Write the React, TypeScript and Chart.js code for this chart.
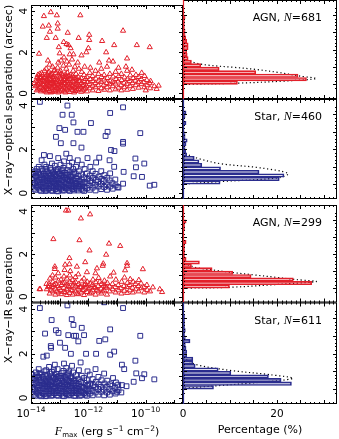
import React, { useEffect, useRef } from 'react';
import { Chart, registerables } from 'chart.js';
Chart.register(...registerables);

// ---------------- data ----------------
// scatter points: [log10(Fmax), separation in arcsec]
const agnOptical: [number, number][] = [
  [-13.72,1.93],[-13.55,3.76],[-13.31,3.95],[-13.59,3.25],[-13.38,3.3],[-13.34,3.0],[-13.45,2.7],[-13.1,3.8],[-13.07,3.4],[-13.07,3.15],
  [-13.14,2.7],[-12.86,2.5],[-12.72,2.95],[-12.76,2.4],[-12.69,2.35],[-12.62,2.2],[-12.28,3.8],[-12.34,2.7],[-11.97,2.85],[-11.97,2.6],
  [-12.0,2.2],[-12.07,2.0],[-12.24,1.85],[-11.52,2.55],[-11.38,2.0],[-11.1,2.35],[-10.79,3.05],[-10.31,2.35],[-9.86,2.25],[-10.65,1.7],
  [-13.41,1.6],[-13.03,2.25],[-13.0,1.95],[-12.52,1.9],[-11.62,1.5],[-11.28,1.6],[-11.14,1.55],[-10.69,1.3],[-13.69,0.75],[-10.48,1.15],
  [-10.14,1.0],[-9.83,0.6],[-9.55,0.38],[-9.62,0.22],[-10.0,0.15],
  [-13.85,0.35],[-13.82,0.62],[-13.88,0.5],[-13.75,0.2],[-13.75,0.45],[-13.74,0.7],[-13.76,0.9],
  [-13.65,0.1],[-13.66,0.3],[-13.64,0.55],[-13.65,0.8],[-13.63,1.0],[-13.55,0.15],[-13.56,0.4],[-13.54,0.6],[-13.55,0.75],[-13.53,1.1],[-13.57,0.25],
  [-13.45,0.05],[-13.46,0.3],[-13.44,0.5],[-13.45,0.65],[-13.43,0.9],[-13.47,1.2],[-13.45,0.2],
  [-13.35,0.12],[-13.36,0.35],[-13.34,0.45],[-13.35,0.7],[-13.33,0.85],[-13.37,1.05],[-13.35,1.4],
  [-13.25,0.08],[-13.26,0.28],[-13.24,0.5],[-13.25,0.6],[-13.23,0.8],[-13.27,0.95],[-13.25,1.3],
  [-13.15,0.18],[-13.16,0.38],[-13.14,0.55],[-13.15,0.72],[-13.13,1.0],[-13.17,1.15],[-13.15,0.1],
  [-13.05,0.05],[-13.06,0.25],[-13.04,0.42],[-13.05,0.62],[-13.03,0.88],[-13.07,1.25],[-13.05,1.5],
  [-12.95,0.15],[-12.96,0.35],[-12.94,0.5],[-12.95,0.7],[-12.93,0.95],[-12.97,1.1],[-12.95,1.6],
  [-12.85,0.1],[-12.86,0.3],[-12.84,0.48],[-12.85,0.66],[-12.83,0.8],[-12.87,1.35],[-12.85,1.75],
  [-12.75,0.2],[-12.76,0.4],[-12.74,0.58],[-12.75,0.78],[-12.73,1.0],[-12.77,1.2],[-12.75,1.55],
  [-12.65,0.07],[-12.66,0.32],[-12.64,0.52],[-12.65,0.7],[-12.63,0.9],[-12.67,1.4],[-12.65,1.9],
  [-12.55,0.18],[-12.56,0.36],[-12.54,0.6],[-12.55,0.85],[-12.53,1.1],[-12.57,1.65],
  [-12.45,0.12],[-12.46,0.28],[-12.44,0.45],[-12.45,0.68],[-12.43,0.95],[-12.47,1.3],
  [-12.35,0.22],[-12.36,0.4],[-12.34,0.62],[-12.35,0.8],[-12.33,1.2],[-12.37,1.5],
  [-12.25,0.08],[-12.26,0.3],[-12.24,0.5],[-12.25,0.75],[-12.23,1.05],
  [-12.15,0.2],[-12.16,0.42],[-12.14,0.6],[-12.15,0.9],[-12.13,1.3],
  [-12.05,0.1],[-12.06,0.35],[-12.04,0.55],[-12.05,0.8],
  [-11.95,0.25],[-11.96,0.45],[-11.94,0.7],[-11.95,1.0],[-11.93,1.25],
  [-11.85,0.15],[-11.86,0.38],[-11.84,0.6],[-11.85,0.85],
  [-11.75,0.3],[-11.76,0.5],[-11.74,0.72],[-11.75,1.1],
  [-11.65,0.12],[-11.66,0.4],[-11.64,0.62],[-11.65,0.95],
  [-11.55,0.25],[-11.56,0.55],[-11.54,0.8],[-11.55,1.2],
  [-11.45,0.18],[-11.46,0.42],[-11.44,0.68],[-11.45,0.9],
  [-11.35,0.3],[-11.36,0.5],[-11.34,0.75],[-11.35,1.3],
  [-11.25,0.15],[-11.26,0.45],[-11.24,0.6],[-11.25,0.95],
  [-11.15,0.35],[-11.16,0.55],[-11.14,0.82],
  [-11.05,0.2],[-11.06,0.48],[-11.04,0.7],[-11.05,1.05],
  [-10.95,0.28],[-10.96,0.58],[-10.94,0.85],[-10.95,1.25],
  [-10.85,0.15],[-10.86,0.4],[-10.84,0.65],[-10.85,0.95],
  [-10.75,0.3],[-10.76,0.52],[-10.74,0.78],
  [-10.65,0.18],[-10.66,0.45],[-10.64,0.7],[-10.65,1.1],
  [-10.55,0.35],[-10.56,0.6],[-10.54,0.88],
  [-10.45,0.22],[-10.46,0.5],[-10.44,0.75],
  [-10.35,0.4],[-10.36,0.62],[-10.34,0.9],
  [-10.25,0.28],[-10.26,0.55],[-10.24,0.8],
  [-10.15,0.45],[-10.16,0.7],[-10.05,0.3],[-10.06,0.55],[-10.04,0.85],
  [-9.95,0.4],[-9.96,0.65],[-9.85,0.25],[-9.86,0.5],[-9.7,0.35],
  [-13.8,0.15],[-13.8,0.4],[-13.79,0.78],[-13.7,0.25],[-13.7,0.5],[-13.71,0.62],[-13.7,0.95],[-13.6,0.18],[-13.6,0.45],[-13.61,0.68],
  [-13.6,0.9],[-13.5,0.1],[-13.5,0.35],[-13.51,0.55],[-13.5,0.82],[-13.4,0.22],[-13.4,0.4],[-13.41,0.6],[-13.4,0.78],[-13.4,1.0],
  [-13.3,0.05],[-13.3,0.3],[-13.31,0.52],[-13.3,0.65],[-13.3,0.9],[-13.2,0.15],[-13.2,0.38],[-13.21,0.45],[-13.2,0.7],[-13.2,1.1],
  [-13.1,0.28],[-13.1,0.48],[-13.11,0.65],[-13.1,0.82],[-13.0,0.1],[-13.0,0.32],[-13.01,0.55],[-13.0,0.78],[-13.0,1.0],[-12.9,0.2],
  [-12.9,0.42],[-12.91,0.6],[-12.9,0.88],[-12.8,0.05],[-12.8,0.25],[-12.81,0.5],[-12.8,0.7],[-12.8,0.92],[-12.7,0.15],[-12.7,0.45],
  [-12.71,0.62],[-12.7,0.85],[-12.6,0.25],[-12.6,0.42],[-12.61,0.78],[-12.5,0.05],[-12.5,0.3],[-12.51,0.55],[-12.5,0.75],[-12.4,0.18],
  [-12.4,0.52],[-12.41,0.72],[-12.3,0.35],[-12.3,0.6],[-12.2,0.15],[-12.2,0.4],[-12.1,0.28],[-12.1,0.7],
];

const starOptical: [number, number][] = [
  [-13.69,4.17],[-12.73,4.0],[-12.9,3.58],[-12.58,3.58],[-12.52,3.23],[-11.24,3.66],[-10.79,3.92],[-11.91,3.2],[-13.01,2.97],[-12.81,2.89],
  [-12.38,2.8],[-12.17,2.8],[-11.33,2.8],[-11.4,2.61],[-10.19,2.74],[-13.13,2.57],[-12.96,2.28],[-12.52,2.28],[-12.24,2.08],[-10.79,2.34],
  [-10.79,2.26],[-11.21,1.97],[-11.09,1.92],[-10.36,1.58],[-10.34,1.18],[-10.05,1.35],[-10.77,0.97],[-11.1,1.2],[-10.42,0.77],[-10.13,0.74],
  [-9.86,0.34],[-9.7,0.38],[-10.79,0.43],[-10.98,0.28],[-11.26,1.5],[-11.62,1.62],[-13.63,1.5],[-13.55,1.74],[-13.34,1.69],
  [-13.95,0.3],[-13.96,0.6],[-13.94,0.85],[-13.85,0.15],[-13.86,0.45],[-13.84,0.75],[-13.85,1.0],
  [-13.75,0.25],[-13.76,0.5],[-13.74,0.7],[-13.75,0.95],[-13.73,1.2],
  [-13.65,0.1],[-13.66,0.35],[-13.64,0.6],[-13.65,0.85],[-13.63,1.1],
  [-13.55,0.2],[-13.56,0.45],[-13.54,0.65],[-13.55,0.9],[-13.53,1.3],
  [-13.45,0.12],[-13.46,0.3],[-13.44,0.55],[-13.45,0.75],[-13.43,1.0],[-13.47,1.2],
  [-13.35,0.22],[-13.36,0.4],[-13.34,0.62],[-13.35,0.85],[-13.33,1.15],
  [-13.25,0.1],[-13.26,0.32],[-13.24,0.5],[-13.25,0.7],[-13.23,0.95],[-13.27,1.35],
  [-13.15,0.18],[-13.16,0.42],[-13.14,0.6],[-13.15,0.8],[-13.13,1.05],[-13.17,1.25],
  [-13.05,0.08],[-13.06,0.28],[-13.04,0.48],[-13.05,0.68],[-13.03,0.9],[-13.07,1.1],[-13.05,1.6],
  [-12.95,0.2],[-12.96,0.38],[-12.94,0.58],[-12.95,0.78],[-12.93,1.0],[-12.97,1.3],
  [-12.85,0.12],[-12.86,0.3],[-12.84,0.5],[-12.85,0.72],[-12.83,0.92],[-12.87,1.15],[-12.85,1.45],
  [-12.75,0.22],[-12.76,0.42],[-12.74,0.62],[-12.75,0.82],[-12.73,1.05],[-12.77,1.8],
  [-12.65,0.1],[-12.66,0.35],[-12.64,0.55],[-12.65,0.75],[-12.63,0.98],[-12.67,1.25],[-12.65,1.6],
  [-12.55,0.18],[-12.56,0.4],[-12.54,0.6],[-12.55,0.85],[-12.53,1.1],[-12.57,1.4],
  [-12.45,0.25],[-12.46,0.45],[-12.44,0.68],[-12.45,0.9],[-12.43,1.2],
  [-12.35,0.12],[-12.36,0.32],[-12.34,0.55],[-12.35,0.78],[-12.33,1.0],[-12.37,1.5],
  [-12.25,0.2],[-12.26,0.4],[-12.24,0.62],[-12.25,0.85],[-12.23,1.3],
  [-12.15,0.1],[-12.16,0.3],[-12.14,0.5],[-12.15,0.72],[-12.13,1.1],
  [-12.05,0.22],[-12.06,0.45],[-12.04,0.65],[-12.05,0.9],[-12.03,1.6],
  [-11.95,0.15],[-11.96,0.35],[-11.94,0.55],[-11.95,0.8],[-11.93,1.2],
  [-11.85,0.25],[-11.86,0.48],[-11.84,0.7],[-11.85,1.0],
  [-11.75,0.12],[-11.76,0.38],[-11.74,0.6],[-11.75,0.88],[-11.73,1.4],
  [-11.65,0.3],[-11.66,0.52],[-11.64,0.75],[-11.55,0.18],[-11.56,0.42],[-11.54,0.65],[-11.55,1.0],
  [-11.45,0.28],[-11.46,0.55],[-11.44,0.82],[-11.35,0.15],[-11.36,0.4],[-11.34,0.7],
  [-11.25,0.3],[-11.26,0.58],[-11.24,0.9],[-11.15,0.2],[-11.16,0.45],[-11.05,0.35],[-11.06,0.62],[-10.95,0.25],
  [-13.9,0.2],[-13.9,0.45],[-13.91,0.7],[-13.9,0.95],[-13.8,0.3],[-13.8,0.55],[-13.81,0.8],[-13.8,1.1],[-13.7,0.15],[-13.7,0.4],
  [-13.71,0.6],[-13.7,0.85],[-13.6,0.25],[-13.6,0.5],[-13.61,0.72],[-13.6,1.0],[-13.5,0.1],[-13.5,0.35],[-13.51,0.58],[-13.5,0.8],
  [-13.5,1.1],[-13.4,0.2],[-13.4,0.45],[-13.41,0.68],[-13.4,0.9],[-13.3,0.12],[-13.3,0.32],[-13.31,0.55],[-13.3,0.78],[-13.3,1.05],
  [-13.2,0.25],[-13.2,0.45],[-13.21,0.65],[-13.2,0.88],[-13.1,0.1],[-13.1,0.35],[-13.11,0.55],[-13.1,0.75],[-13.1,0.98],[-13.0,0.22],
  [-13.0,0.42],[-13.01,0.65],[-13.0,0.88],[-12.9,0.12],[-12.9,0.35],[-12.91,0.6],[-12.9,0.82],[-12.9,1.05],[-12.8,0.25],[-12.8,0.45],
  [-12.81,0.68],[-12.8,0.92],[-12.7,0.15],[-12.7,0.38],[-12.71,0.6],[-12.7,0.85],[-12.6,0.25],[-12.6,0.48],[-12.61,0.72],[-12.5,0.12],
  [-12.5,0.32],[-12.51,0.55],[-12.5,0.95],[-12.4,0.2],[-12.4,0.42],[-12.41,0.65],[-12.3,0.3],[-12.3,0.52],[-12.2,0.15],[-12.2,0.45],
];

const agnIR: [number, number][] = [
  [-12.78,4.04],[-12.7,4.04],[-12.26,3.67],[-11.94,3.86],[-13.22,2.7],[-12.31,2.65],[-11.28,2.49],[-10.89,2.38],[-11.96,2.17],[-11.38,1.97],
  [-12.66,1.81],[-12.11,1.62],[-12.81,1.5],[-12.66,1.52],[-13.17,1.41],[-13.17,1.3],[-10.1,1.29],[-10.65,1.57],[-10.65,1.45],[-11.12,1.13],
  [-10.72,1.24],[-9.51,0.35],[-9.43,0.22],[-9.75,0.44],[-12.4,1.41],[-11.7,1.33],[-11.5,1.45],[-11.48,1.55],[-13.37,0.6],[-13.4,0.45],[-13.68,0.35],[-13.7,0.36],
  [-13.45,0.35],[-13.46,0.6],[-13.35,0.15],[-13.36,0.5],[-13.34,0.85],
  [-13.25,0.25],[-13.26,0.45],[-13.24,0.7],[-13.25,1.0],[-13.15,0.1],[-13.16,0.38],[-13.14,0.6],[-13.15,0.9],
  [-13.05,0.2],[-13.06,0.5],[-13.04,0.75],[-13.05,1.1],[-12.95,0.12],[-12.96,0.3],[-12.94,0.55],[-12.95,0.8],
  [-12.85,0.22],[-12.86,0.42],[-12.84,0.65],[-12.85,0.95],[-12.83,1.25],[-12.75,0.08],[-12.76,0.35],[-12.74,0.58],[-12.75,0.85],
  [-12.65,0.18],[-12.66,0.45],[-12.64,0.7],[-12.65,1.0],[-12.63,1.2],[-12.55,0.1],[-12.56,0.3],[-12.54,0.52],[-12.55,0.78],
  [-12.45,0.25],[-12.46,0.48],[-12.44,0.68],[-12.45,0.92],[-12.35,0.12],[-12.36,0.38],[-12.34,0.6],[-12.35,1.05],
  [-12.25,0.2],[-12.26,0.45],[-12.24,0.72],[-12.15,0.08],[-12.16,0.32],[-12.14,0.55],[-12.15,0.85],
  [-12.05,0.22],[-12.06,0.48],[-12.04,0.7],[-12.05,1.15],[-11.95,0.15],[-11.96,0.4],[-11.94,0.62],
  [-11.85,0.3],[-11.86,0.55],[-11.84,0.8],[-11.75,0.1],[-11.76,0.42],[-11.74,0.68],[-11.75,1.1],
  [-11.65,0.25],[-11.66,0.5],[-11.64,0.88],[-11.55,0.15],[-11.56,0.38],[-11.54,0.6],
  [-11.45,0.3],[-11.46,0.52],[-11.44,0.75],[-11.35,0.1],[-11.36,0.42],[-11.34,0.65],
  [-11.25,0.25],[-11.26,0.48],[-11.24,0.95],[-11.15,0.35],[-11.16,0.6],[-11.05,0.2],[-11.06,0.45],[-11.04,0.8],
  [-10.95,0.3],[-10.96,0.55],[-10.85,0.15],[-10.86,0.4],[-10.84,0.7],[-10.75,0.28],[-10.76,0.5],[-10.74,0.9],
  [-10.65,0.18],[-10.66,0.45],[-10.64,0.65],[-10.55,0.3],[-10.56,0.55],[-10.54,0.82],
  [-10.45,0.2],[-10.46,0.42],[-10.44,0.7],[-10.35,0.35],[-10.36,0.6],[-10.25,0.25],[-10.26,0.5],[-10.24,0.78],
  [-10.15,0.4],[-10.16,0.62],[-10.05,0.2],[-10.06,0.45],[-9.95,0.32],[-9.96,0.55],[-9.85,0.25],
  [-13.3,0.3],[-13.2,0.55],[-13.1,0.25],[-13.0,0.4],[-12.9,0.65],[-12.8,0.2],[-12.7,0.5],[-12.6,0.3],[-12.5,0.62],[-12.4,0.15],
  [-12.3,0.45],[-12.2,0.3],[-12.1,0.6],[-12.0,0.38],[-11.9,0.2],[-11.8,0.45],[-11.7,0.3],[-11.6,0.7],[-11.5,0.25],[-11.4,0.48],
];

const starIR: [number, number][] = [
  [-13.69,4.05],[-12.73,4.17],[-11.45,4.31],[-10.79,4.05],[-13.28,3.51],[-12.58,3.55],[-12.52,3.29],[-12.23,3.16],[-11.24,3.09],[-13.51,2.9],
  [-13.13,3.05],[-13.04,2.93],[-12.7,2.83],[-12.5,2.8],[-12.43,2.8],[-12.15,2.83],[-12.35,2.55],[-12.99,2.49],[-10.19,2.8],[-11.62,2.57],
  [-11.41,2.64],[-13.31,2.34],[-13.3,2.26],[-12.81,2.26],[-12.61,1.99],[-13.45,1.91],[-13.57,1.86],[-12.08,1.99],[-11.73,1.99],[-11.24,1.95],
  [-11.1,2.09],[-10.36,1.68],[-10.83,1.5],[-10.75,1.3],[-10.33,1.11],[-10.05,1.07],[-10.42,0.73],[-10.13,0.89],[-9.7,0.84],[-10.83,0.58],
  [-11.0,0.28],[-10.67,0.53],
  [-13.95,0.25],[-13.96,0.5],[-13.94,0.8],[-13.95,1.05],[-13.85,0.1],[-13.86,0.38],[-13.84,0.65],[-13.85,0.9],[-13.83,1.15],
  [-13.75,0.2],[-13.76,0.45],[-13.74,0.7],[-13.75,0.95],[-13.73,1.3],[-13.65,0.08],[-13.66,0.3],[-13.64,0.55],[-13.65,0.8],[-13.63,1.05],
  [-13.55,0.18],[-13.56,0.42],[-13.54,0.62],[-13.55,0.88],[-13.53,1.2],
  [-13.45,0.1],[-13.46,0.32],[-13.44,0.5],[-13.45,0.72],[-13.43,0.98],[-13.47,1.25],
  [-13.35,0.2],[-13.36,0.4],[-13.34,0.6],[-13.35,0.82],[-13.33,1.1],[-13.37,1.4],
  [-13.25,0.12],[-13.26,0.3],[-13.24,0.52],[-13.25,0.75],[-13.23,0.92],[-13.27,1.18],
  [-13.15,0.22],[-13.16,0.45],[-13.14,0.65],[-13.15,0.85],[-13.13,1.08],[-13.17,1.5],
  [-13.05,0.1],[-13.06,0.35],[-13.04,0.55],[-13.05,0.78],[-13.03,1.0],[-13.07,1.3],
  [-12.95,0.2],[-12.96,0.42],[-12.94,0.62],[-12.95,0.88],[-12.93,1.12],
  [-12.85,0.08],[-12.86,0.3],[-12.84,0.5],[-12.85,0.7],[-12.83,0.95],[-12.87,1.22],[-12.85,1.55],
  [-12.75,0.18],[-12.76,0.4],[-12.74,0.6],[-12.75,0.8],[-12.73,1.05],[-12.77,1.35],
  [-12.65,0.12],[-12.66,0.32],[-12.64,0.52],[-12.65,0.75],[-12.63,0.98],[-12.67,1.2],
  [-12.55,0.22],[-12.56,0.45],[-12.54,0.65],[-12.55,0.88],[-12.53,1.15],[-12.57,1.45],
  [-12.45,0.1],[-12.46,0.35],[-12.44,0.55],[-12.45,0.78],[-12.43,1.02],
  [-12.35,0.2],[-12.36,0.42],[-12.34,0.62],[-12.35,0.85],[-12.33,1.25],
  [-12.25,0.12],[-12.26,0.3],[-12.24,0.5],[-12.25,0.72],[-12.23,1.0],[-12.27,1.6],
  [-12.15,0.22],[-12.16,0.45],[-12.14,0.68],[-12.15,0.9],
  [-12.05,0.1],[-12.06,0.35],[-12.04,0.55],[-12.05,0.8],[-12.03,1.2],
  [-11.95,0.2],[-11.96,0.42],[-11.94,0.65],[-11.95,1.05],[-11.85,0.12],[-11.86,0.32],[-11.84,0.58],[-11.85,0.85],
  [-11.75,0.25],[-11.76,0.48],[-11.74,0.72],[-11.75,1.3],[-11.65,0.15],[-11.66,0.4],[-11.64,0.62],[-11.65,0.95],
  [-11.55,0.28],[-11.56,0.5],[-11.54,0.8],[-11.45,0.12],[-11.46,0.38],[-11.44,0.65],[-11.45,1.1],
  [-11.35,0.25],[-11.36,0.5],[-11.34,0.78],[-11.25,0.15],[-11.26,0.4],[-11.24,0.62],
  [-11.15,0.3],[-11.16,0.55],[-11.14,0.9],[-11.05,0.2],[-11.06,0.45],[-11.04,0.7],[-10.95,0.35],[-10.96,0.6],[-10.85,0.25],
  [-13.9,0.15],[-13.9,0.4],[-13.91,0.65],[-13.9,0.92],[-13.8,0.25],[-13.8,0.52],[-13.81,0.78],[-13.8,1.02],[-13.7,0.12],[-13.7,0.35],
  [-13.71,0.58],[-13.7,0.82],[-13.7,1.12],[-13.6,0.22],[-13.6,0.45],[-13.61,0.7],[-13.6,0.95],[-13.5,0.08],[-13.5,0.3],[-13.51,0.55],
  [-13.5,0.78],[-13.5,1.05],[-13.4,0.2],[-13.4,0.42],[-13.41,0.65],[-13.4,0.88],[-13.3,0.1],[-13.3,0.32],[-13.31,0.55],[-13.3,0.72],
  [-13.3,0.98],[-13.2,0.22],[-13.2,0.42],[-13.21,0.62],[-13.2,0.9],[-13.2,1.25],[-13.1,0.12],[-13.1,0.32],[-13.11,0.52],[-13.1,0.72],
  [-13.1,0.95],[-13.0,0.22],[-13.0,0.45],[-13.01,0.68],[-13.0,0.9],[-12.9,0.1],[-12.9,0.32],[-12.91,0.55],[-12.9,0.78],[-12.9,1.0],
  [-12.8,0.22],[-12.8,0.42],[-12.81,0.62],[-12.8,0.88],[-12.7,0.12],[-12.7,0.32],[-12.71,0.55],[-12.7,0.8],[-12.7,1.1],[-12.6,0.22],
  [-12.6,0.45],[-12.61,0.68],[-12.6,0.92],[-12.5,0.1],[-12.5,0.35],[-12.51,0.55],[-12.5,0.78],[-12.4,0.22],[-12.4,0.45],[-12.41,0.68],
  [-12.3,0.1],[-12.3,0.32],[-12.31,0.55],[-12.2,0.25],[-12.2,0.5],[-12.1,0.15],[-12.1,0.4],[-12.0,0.3],[-12.0,0.6],
];

// histograms: bin centres (arcsec) and percentages
const sepBins = [0.1,0.3,0.5,0.7,0.9,1.1,1.3,1.5,1.7,1.9,2.1,2.3,2.5,2.7,2.9,3.1,3.3,3.5,3.7,3.9,4.1];
const agnOptPct = [11.6,26.3,24.5,15.5,7.7,3.8,1.8,1.1,0.9,0.8,1.1,1.1,0.8,0.6,0.45,0.45,0.3,0.3,0.3,0.45,0];
const starOptPct = [7.9,20.5,21.5,16.2,8.0,4.0,3.4,2.4,0.8,0.6,0.45,0.65,0.9,0.45,0.45,0.2,0.2,0.65,0.2,0.45,0.65];
const agnIrPct = [9.9,27.4,23.5,14.5,10.6,6.2,1.8,3.5,0.67,0.33,0.33,0.33,0.33,0.67,0,0,0,0.33,0.33,0.67,0];
const starIrPct = [6.5,23.1,20.9,18.2,10.2,7.5,2.6,2.1,2.1,0.8,0.8,0.65,0.5,1.5,0.5,0.33,0.5,0.33,0.33,0.33,0.33];

// dotted model curves: [percentage, separation]
const agnOptCurve: [number, number][] = [[0.4,0.0],[11.4,0.07],[22,0.2],[28.4,0.34],[24.9,0.48],[20.6,0.68],[15.7,0.86],[10.7,0.99],[5.7,1.1],[2.9,1.22],[1.1,1.41],[0.4,1.68]];
const starOptCurve: [number, number][] = [[0.4,0.02],[7.9,0.15],[20.6,0.38],[22.4,0.62],[16.4,0.94],[7.9,1.18],[2.9,1.5],[0.4,1.76]];
const agnIrCurve: [number, number][] = [[0.8,0.0],[10,0.05],[23.5,0.28],[28.4,0.39],[24.2,0.5],[19.9,0.63],[15,0.78],[10.7,0.91],[6.5,1.06],[2.9,1.2],[0.8,1.4]];
const starIrCurve: [number, number][] = [[0.4,0.05],[6.5,0.17],[15,0.35],[23.4,0.6],[18.5,0.81],[10.4,1.04],[2.9,1.37],[0.4,1.7]];

const panelLabels = ['AGN', 'Star', 'AGN', 'Star'];
const panelCounts = [681, 460, 299, 611];

// axis ticks
const fluxLabelExps = [-14, -12, -10];
const fluxDecades = [-14, -13, -12, -11, -10, -9];
const sepLabels = [0, 2, 4];
const sepMajor = [0, 1, 2, 3, 4];
const pctLabels = [0, 20];
const pctMajor = [0, 5, 10, 15, 20, 25, 30];

// ---------------- style / layout ----------------
const W = 339, H = 439;
const RED = '#e3202b';
const BLUE = '#2b2d8e';
const RED_FILL = 'rgba(227,32,43,0.13)';
const BLUE_FILL = 'rgba(43,45,142,0.13)';
const ROWS = [
  { top: 0, bottom: 99 },
  { top: 99, bottom: 199 },
  { top: 205, bottom: 302.5 },
  { top: 302.5, bottom: 404 },
];
const LEFT_X = [31, 183];
const RIGHT_X = [183, 337];
const Y_MIN = -0.27, Y_MAX = 4.3;
const X_LOG_MIN = 1e-14, X_LOG_MAX = Math.pow(10, -8.7);
const PCT_MAX = 32.8;
const FONT = '"DejaVu Sans", sans-serif';

const logMinor: number[] = [];
fluxDecades.forEach((d) => { for (let m = 2; m <= 9; m++) logMinor.push(m * Math.pow(10, d)); });
const sepMinor: number[] = [];
for (let i = -1; i <= 22; i++) sepMinor.push(i * 0.2);
const pctMinor: number[] = [];
for (let i = 0; i <= 33; i++) pctMinor.push(i);

const framePlugin = {
  id: 'frame',
  afterDatasetsDraw(chart: any, _args: any, o: any) {
    const { ctx, chartArea: a } = chart;
    const xs = chart.scales.x, ys = chart.scales.y;
    ctx.save();
    ctx.strokeStyle = '#000';
    ctx.lineWidth = 1;
    ctx.strokeRect(a.left + 0.5, a.top + 0.5, a.right - a.left - 1, a.bottom - a.top - 1);
    const drawX = (vals: number[], len: number) => {
      vals.forEach((v) => {
        const px = Math.round(xs.getPixelForValue(v)) + 0.5;
        if (px < a.left || px > a.right) return;
        ctx.moveTo(px, a.bottom); ctx.lineTo(px, a.bottom - len);
        ctx.moveTo(px, a.top); ctx.lineTo(px, a.top + len);
      });
    };
    const drawY = (vals: number[], len: number) => {
      vals.forEach((v) => {
        const py = Math.round(ys.getPixelForValue(v)) + 0.5;
        if (py < a.top || py > a.bottom) return;
        ctx.moveTo(a.left, py); ctx.lineTo(a.left + len, py);
        ctx.moveTo(a.right, py); ctx.lineTo(a.right - len, py);
      });
    };
    ctx.beginPath();
    drawX(o.xMajor, 4); drawX(o.xMinor, 2);
    drawY(o.yMajor, 4); drawY(o.yMinor, 2);
    ctx.stroke();
    if (o.edgeColor) {
      const px = Math.round(xs.getPixelForValue(0)) + 0.5;
      ctx.strokeStyle = o.edgeColor;
      ctx.lineWidth = 1.2;
      ctx.beginPath();
      ctx.moveTo(px, a.bottom);
      ctx.lineTo(px, a.top);
      ctx.stroke();
    }
    ctx.fillStyle = '#000';
    if (o.yLabels) {
      ctx.font = `10.5px ${FONT}`;
      ctx.textAlign = 'center';
      ctx.textBaseline = 'alphabetic';
      o.yLabels.forEach((v: number) => {
        const py = ys.getPixelForValue(v);
        ctx.save();
        ctx.translate(a.left - 4, py);
        ctx.rotate(-Math.PI / 2);
        ctx.fillText(String(v), 0, 0);
        ctx.restore();
      });
    }
    if (o.xLabels) {
      const base = a.bottom + 13;
      ctx.textBaseline = 'alphabetic';
      ctx.textAlign = 'left';
      o.xLabels.forEach((l: { v: number; text: string; sup?: string }) => {
        const px = xs.getPixelForValue(l.v);
        ctx.font = `10.5px ${FONT}`;
        const w1 = ctx.measureText(l.text).width;
        let w2 = 0;
        if (l.sup) { ctx.font = `7.5px ${FONT}`; w2 = ctx.measureText(l.sup).width; }
        const x0 = px - (w1 + w2) / 2;
        ctx.font = `10.5px ${FONT}`;
        ctx.fillText(l.text, x0, base);
        if (l.sup) { ctx.font = `7.5px ${FONT}`; ctx.fillText(l.sup, x0 + w1, base - 5); }
      });
    }
    ctx.restore();
  },
};

function makeScatter(row: number, pts: [number, number][], color: string, style: string, bottom: boolean) {
  const r = ROWS[row];
  return {
    type: 'scatter',
    data: {
      datasets: [{
        data: pts.map(([lf, s]) => ({ x: Math.pow(10, lf), y: s })),
        pointStyle: style,
        pointRadius: style === 'rect' ? 3.4 : 3,
        borderColor: color,
        backgroundColor: 'rgba(0,0,0,0)',
        borderWidth: 1,
      }],
    },
    options: {
      animation: false, responsive: false, maintainAspectRatio: false,
      layout: { padding: { left: LEFT_X[0], right: W - LEFT_X[1], top: r.top, bottom: H - r.bottom } },
      scales: {
        x: { type: 'logarithmic', min: X_LOG_MIN, max: X_LOG_MAX, display: false },
        y: { type: 'linear', min: Y_MIN, max: Y_MAX, display: false },
      },
      plugins: {
        legend: { display: false }, tooltip: { enabled: false },
        frame: {
          xMajor: fluxDecades.map((d) => Math.pow(10, d)), xMinor: logMinor,
          yMajor: sepMajor, yMinor: sepMinor, yLabels: sepLabels,
          xLabels: bottom ? fluxLabelExps.map((e) => ({ v: Math.pow(10, e), text: '10', sup: '\u2212' + Math.abs(e) })) : null,
        },
      },
    },
    plugins: [framePlugin],
  };
}

function makeHist(row: number, pct: number[], curve: [number, number][], color: string, fill: string, bottom: boolean) {
  const r = ROWS[row];
  return {
    type: 'bar',
    data: {
      datasets: [
        {
          type: 'bar',
          data: pct.map((v, i) => ({ x: v, y: sepBins[i] })),
          backgroundColor: fill, borderColor: color, borderWidth: 1,
          borderSkipped: false, barPercentage: 1, categoryPercentage: 1,
        },
        {
          type: 'line',
          data: curve.map(([p, s]) => ({ x: p, y: s })),
          borderColor: '#000', borderWidth: 1.2, borderDash: [1.2, 2.6],
          pointRadius: 0, fill: false, tension: 0.35,
        },
      ],
    },
    options: {
      indexAxis: 'y',
      animation: false, responsive: false, maintainAspectRatio: false,
      layout: { padding: { left: RIGHT_X[0], right: W - RIGHT_X[1], top: r.top, bottom: H - r.bottom } },
      scales: {
        x: { type: 'linear', min: 0, max: PCT_MAX, display: false },
        y: { type: 'linear', min: Y_MIN, max: Y_MAX, display: false },
      },
      plugins: {
        legend: { display: false }, tooltip: { enabled: false },
        frame: {
          xMajor: pctMajor, xMinor: pctMinor, yMajor: sepMajor, yMinor: sepMinor,
          edgeColor: color,
          xLabels: bottom ? pctLabels.map((v) => ({ v, text: String(v) })) : null,
        },
      },
    },
    plugins: [framePlugin],
  };
}

export default function App() {
  const refs = useRef<(HTMLCanvasElement | null)[]>([]);
  useEffect(() => {
    const configs: any[] = [
      makeScatter(0, agnOptical, RED, 'triangle', false),
      makeScatter(1, starOptical, BLUE, 'rect', false),
      makeScatter(2, agnIR, RED, 'triangle', false),
      makeScatter(3, starIR, BLUE, 'rect', true),
      makeHist(0, agnOptPct, agnOptCurve, RED, RED_FILL, false),
      makeHist(1, starOptPct, starOptCurve, BLUE, BLUE_FILL, false),
      makeHist(2, agnIrPct, agnIrCurve, RED, RED_FILL, false),
      makeHist(3, starIrPct, starIrCurve, BLUE, BLUE_FILL, true),
    ];
    const charts = configs.map((c, i) => new Chart(refs.current[i] as HTMLCanvasElement, c));
    return () => charts.forEach((c) => c.destroy());
  }, []);

  const txt: React.CSSProperties = { position: 'absolute', fontFamily: FONT, color: '#000', whiteSpace: 'nowrap' };
  return (
    <div style={{ position: 'fixed', left: 0, top: 0, width: W, height: H, background: '#fff', overflow: 'hidden' }}>
      {Array.from({ length: 8 }).map((_, i) => (
        <canvas key={i} ref={(el) => { refs.current[i] = el; }} width={W} height={H}
          style={{ position: 'absolute', left: 0, top: 0, width: W, height: H }} />
      ))}
      {ROWS.map((r, i) => (
        <div key={i} style={{ ...txt, right: W - 322, top: r.top + 11, fontSize: 11, lineHeight: '12px' }}>
          {panelLabels[i]},&nbsp;<span style={{ fontFamily: '"Liberation Serif", serif', fontStyle: 'italic', fontSize: 12 }}>N</span>={panelCounts[i]}
        </div>
      ))}
      <div style={{ ...txt, left: 8, top: (ROWS[0].top + ROWS[1].bottom) / 2, fontSize: 11, lineHeight: '13px', transform: 'translate(-50%,-50%) rotate(-90deg)' }}>
        X−ray−optical separation (arcsec)
      </div>
      <div style={{ ...txt, left: 8, top: (ROWS[2].top + ROWS[3].bottom) / 2, fontSize: 11, lineHeight: '13px', transform: 'translate(-50%,-50%) rotate(-90deg)' }}>
        X−ray−IR separation
      </div>
      <div style={{ ...txt, left: 7, width: 200, textAlign: 'center', top: 425, fontSize: 11, lineHeight: '12px' }}>
        <span style={{ fontFamily: '"Liberation Serif", serif', fontStyle: 'italic', fontSize: 12 }}>F</span>
        <span style={{ fontSize: 7, position: 'relative', top: 2 }}>max</span>
        {' '}(erg s<span style={{ fontSize: 7.5, position: 'relative', top: -4 }}>−1</span> cm<span style={{ fontSize: 7.5, position: 'relative', top: -4 }}>−2</span>)
      </div>
      <div style={{ ...txt, left: 160, width: 200, textAlign: 'center', top: 424, fontSize: 11, lineHeight: '12px' }}>
        Percentage (%)
      </div>
    </div>
  );
}
